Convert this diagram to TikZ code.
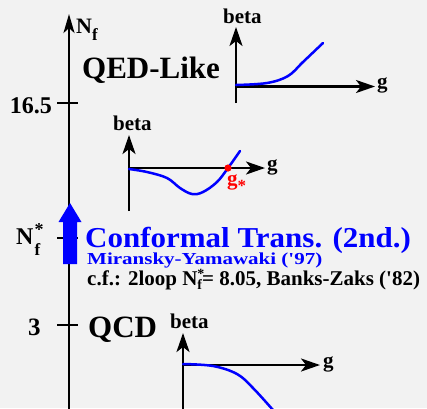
\documentclass[tikz,border=0pt]{standalone}
\usepackage{fontspec}
\setmainfont{Liberation Serif}
\usetikzlibrary{arrows.meta}
\definecolor{bg}{RGB}{242,242,242}
\definecolor{myblue}{RGB}{0,0,255}
\definecolor{myred}{RGB}{255,0,0}
\newcommand\fsz[1]{\fontsize{#1}{#1}\selectfont}
\begin{document}
\begin{tikzpicture}[x=1pt,y=-1pt,font=\bfseries,
  axisline/.style={line width=2.5pt,-{Stealth[length=19pt,width=13pt,inset=5pt]}},
  mainaxis/.style={line width=2.6pt,-{Stealth[length=19pt,width=11pt,inset=5pt]}},
  tick/.style={line width=2.6pt},
  curve/.style={myblue,line width=2.5pt,line cap=round},
  lbl/.style={inner sep=0pt,anchor=base west},
  lble/.style={inner sep=0pt,anchor=base east}]
\fill[bg] (0,0) rectangle (427,408);
\useasboundingbox (0,0) rectangle (427,408);
% main axis
\coordinate (mainbot) at (69,410);
\coordinate (maintop) at (69,14);
\draw[mainaxis] (mainbot) -- (maintop);
\node[lbl] (nflabel) at (76,33) {\fsz{22}N\raisebox{-7pt}{\fsz{17}f}};
% ticks
\coordinate (t1a) at (57,103); \coordinate (t1b) at (78,103);
\coordinate (t2a) at (57,238); \coordinate (t2b) at (78,238);
\coordinate (t3a) at (57,325); \coordinate (t3b) at (78,325);
\draw[tick] (t1a) -- (t1b);
\draw[tick] (t2a) -- (t2b);
\draw[tick] (t3a) -- (t3b);
\node[lble] (l165) at (52,113) {\fsz{24}16.5};
\node[lbl] (lnfs) at (16,244) {\fsz{24}N\kern1pt\rlap{\raisebox{9pt}{\fsz{18}*}}\raisebox{-11pt}{\fsz{17}f}};
\node[lbl] (l3) at (28,335) {\fsz{25}3};
% blue arrow
\fill[myblue] (63,264) -- (63,222) -- (58.5,222) -- (70,203) -- (81.5,222) -- (77,222) -- (77,264) -- cycle;
% texts
\node[lbl] (qed) at (82,78) {\fsz{31}QED-Like};
\node[lbl] (qcd) at (88,337) {\fsz{31}QCD};
\node[lbl,myblue] (conf) at (85,247.5) {\scalebox{1}[0.93]{\fsz{31}Conformal Trans. (2nd.)}};
\node[lbl,myblue] (mira) at (87,264.5) {\scalebox{1}[0.8]{\fsz{21}Miransky-Yamawaki (\textquotesingle 97)}};
\node[lbl] (cf) at (87,285) {\fsz{21}c.f.: 2loop N\rlap{\raisebox{7pt}{\fsz{14}*}}\raisebox{-4pt}{\fsz{14}f}= 8.05, Banks-Zaks (\textquotesingle 82)};
% inset 1 (QED-like)
\coordinate (a1o) at (236,86.5);
\coordinate (a1b) at (236,103);
\coordinate (a1t) at (236,27);
\coordinate (a1r) at (375,86.5);
\draw[axisline] (a1b) -- (a1t);
\draw[axisline] (a1o) -- (a1r);
\node[lbl] (b1) at (223,23) {\fsz{21}beta};
\node[lbl] (g1) at (377,88) {\fsz{21}g};
\draw[curve] plot[smooth,tension=0.6] coordinates {(236,85) (267,83) (288,76) (303,62) (323,43)};
% inset 2 (conformal)
\coordinate (a2o) at (129,168);
\coordinate (a2b) at (129,211);
\coordinate (a2t) at (129,135);
\coordinate (a2r) at (265,168);
\draw[axisline] (a2b) -- (a2t);
\draw[axisline] (a2o) -- (a2r);
\node[lbl] (b2) at (113,130) {\fsz{21}beta};
\node[lbl] (g2) at (267,170) {\fsz{21}g};
\draw[curve] plot[smooth,tension=0.6] coordinates {(129,169) (147,172) (167,178) (180,188) (192,194) (203,192) (217,182) (228,168) (240,151)};
\fill[myred] (228,168) circle (3.6);
\node[lbl,myred] (gs) at (227,185) {\fsz{21}g\raisebox{-6pt}{\fsz{17}*}};
% inset 3 (QCD)
\coordinate (a3o) at (183,365);
\coordinate (a3b) at (183,410);
\coordinate (a3t) at (183,333);
\coordinate (a3r) at (320,365);
\draw[axisline] (a3b) -- (a3t);
\draw[axisline] (a3o) -- (a3r);
\node[lbl] (b3) at (170,328) {\fsz{21}beta};
\node[lbl] (g3) at (323,367) {\fsz{21}g};
\draw[curve] plot[smooth,tension=0.6] coordinates {(183,364) (213,366) (237,374) (253,388) (273,410)};
\end{tikzpicture}
\end{document}
